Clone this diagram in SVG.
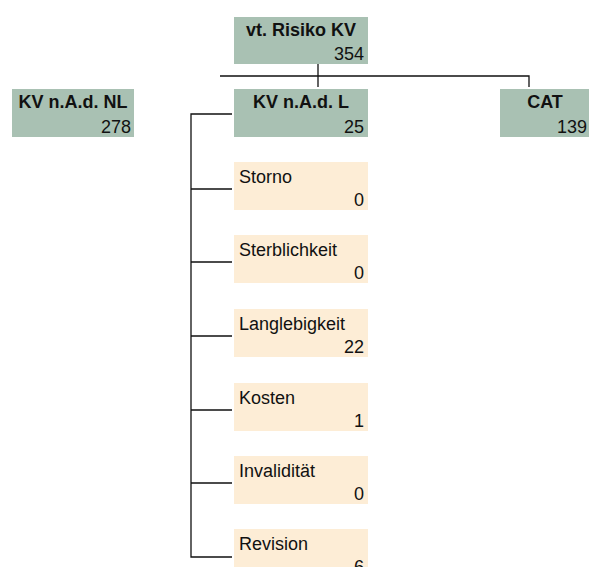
<svg xmlns="http://www.w3.org/2000/svg" width="590" height="567" viewBox="0 0 590 567">
<style>
.g{fill:#A9C1B3}
.p{fill:#FDEDD6}
.lb{font-family:"Liberation Sans",Arial,sans-serif;font-size:18px;font-weight:bold;fill:#111;text-anchor:middle}
.lr{font-family:"Liberation Sans",Arial,sans-serif;font-size:18px;fill:#111}
.n{font-family:"Liberation Sans",Arial,sans-serif;font-size:18px;fill:#111;text-anchor:end}
.c{stroke:#111;stroke-width:1.3;fill:none}
</style>
<rect width="590" height="567" fill="#fff"/>
<g id="connectors" class="c">
<path d="M318 64V87M220 76H529V87"/>
<path d="M232 114H191V557H232"/>
<path d="M191 189H232M191 262H232M191 336H232M191 410H232M191 483H232"/>
</g>
<g id="root"><rect class="g" x="234" y="17" width="134" height="47"/><text class="lb" x="301" y="36">vt. Risiko KV</text><text class="n" x="364" y="60">354</text></g>
<g id="nl"><rect class="g" x="12" y="89" width="122" height="48"/><text class="lb" x="73" y="108">KV n.A.d. NL</text><text class="n" x="131" y="133">278</text></g>
<g id="l"><rect class="g" x="234" y="89" width="134" height="48"/><text class="lb" x="301" y="108">KV n.A.d. L</text><text class="n" x="364" y="133">25</text></g>
<g id="cat"><rect class="g" x="500" y="89" width="89" height="48"/><text class="lb" x="545" y="108">CAT</text><text class="n" x="587" y="133">139</text></g>
<g id="storno"><rect class="p" x="234" y="162" width="134" height="48"/><text class="lr" x="239" y="183">Storno</text><text class="n" x="364" y="206">0</text></g>
<g id="sterblichkeit"><rect class="p" x="234" y="235" width="134" height="48"/><text class="lr" x="239" y="256">Sterblichkeit</text><text class="n" x="364" y="279">0</text></g>
<g id="langlebigkeit"><rect class="p" x="234" y="309" width="134" height="48"/><text class="lr" x="239" y="330">Langlebigkeit</text><text class="n" x="364" y="353">22</text></g>
<g id="kosten"><rect class="p" x="234" y="383" width="134" height="48"/><text class="lr" x="239" y="404">Kosten</text><text class="n" x="364" y="427">1</text></g>
<g id="invaliditaet"><rect class="p" x="234" y="456" width="134" height="48"/><text class="lr" x="239" y="477">Invalidität</text><text class="n" x="364" y="500">0</text></g>
<g id="revision"><rect class="p" x="234" y="529" width="134" height="48"/><text class="lr" x="239" y="550">Revision</text><text class="n" x="364" y="573">6</text></g>
</svg>
